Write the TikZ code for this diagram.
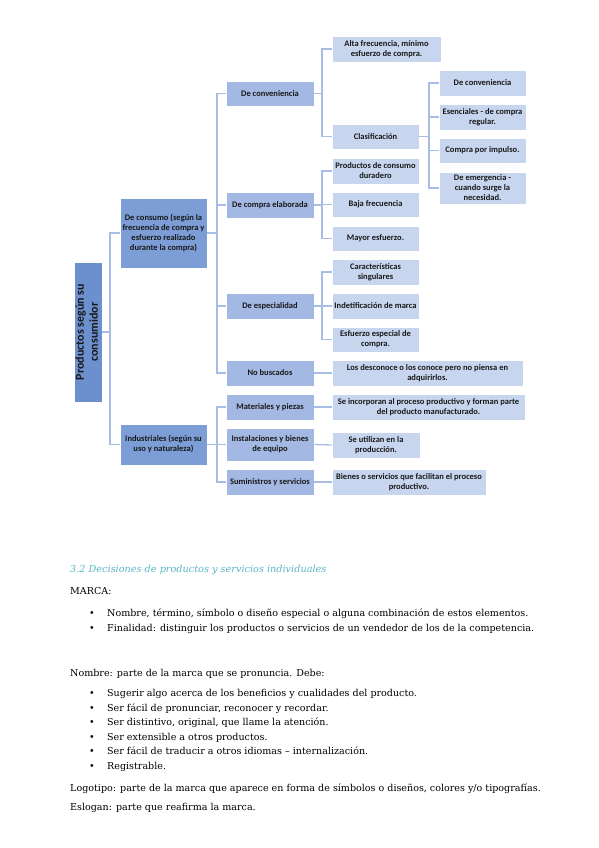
\documentclass[tikz,border=0pt]{standalone}
\usepackage{fontspec}
\usepackage{graphicx}
\newfontfamily\diagfont{Carlito}
\newfontfamily\bodyfont{DejaVu Serif}
\definecolor{rootc}{RGB}{108,143,206}
\definecolor{lonec}{RGB}{124,157,214}
\definecolor{ltwoc}{RGB}{163,184,226}
\definecolor{lthreec}{RGB}{199,213,239}
\definecolor{connc}{RGB}{168,189,230}
\definecolor{headc}{RGB}{91,183,200}
\newcommand\dg{\diagfont\bfseries\fontsize{8.5}{10}\selectfont}
\newcommand\bd{\bodyfont\fontsize{9.55}{11}\selectfont}
\begin{document}
\begin{tikzpicture}[x=1pt,y=-1pt,
  bx/.style={draw=white, line width=0.6pt, inner sep=0pt, align=center, font=\dg, text=black!90},
  rootbox/.style={bx, fill=rootc},
  lone/.style={bx, fill=lonec},
  ltwo/.style={bx, fill=ltwoc, minimum width=88pt},
  lthree/.style={bx, fill=lthreec},
  lfour/.style={bx, fill=lthreec, minimum width=87pt},
  conn/.style={draw=connc, line width=1.3pt},
  bodytext/.style={anchor=base west, inner sep=0pt, font=\bd, text=black},
  bul/.style={anchor=base west, inner sep=0pt, font=\bd, text=black}]
\fill[white] (0,0) rectangle (599,848);
\useasboundingbox (0,0) rectangle (599,848);

% bar positions
\coordinate (xa) at (110,0);
\coordinate (xb) at (217,0);
\coordinate (xc) at (322,0);
\coordinate (xd) at (429,0);

% root
\node[rootbox, minimum width=26pt, minimum height=140pt] (root) at (88,332)
  {\rotatebox{90}{\diagfont\fontsize{12}{14}\selectfont\begin{tabular}{@{}c@{}}Productos según su\\consumidor\end{tabular}}};

% level 1
\node[lone, minimum width=87pt, minimum height=70pt] (c1) at (163.5,233)
  {De consumo (según la\\frecuencia de compra y\\esfuerzo realizado\\durante la compra)};
\node[lone, minimum width=87pt, minimum height=41pt] (c2) at (163.5,444.5)
  {Industriales (según su\\uso y naturaleza)};

% level 2
\node[ltwo, minimum height=25pt] (d1) at (270,93.5) {De conveniencia};
\node[ltwo, minimum height=26pt] (d2) at (270,205) {De compra elaborada};
\node[ltwo, minimum height=26pt] (d3) at (270,306) {De especialidad};
\node[ltwo, minimum height=26pt] (d4) at (270,373) {No buscados};
\node[ltwo, minimum height=26pt] (d5) at (270,407) {Materiales y piezas};
\node[ltwo, minimum height=33pt] (d6) at (270,444.5) {Instalaciones y bienes\\de equipo};
\node[ltwo, minimum height=26pt] (d7) at (270,482) {Suministros y servicios};

% level 3
\node[lthree, minimum width=109pt, minimum height=26pt] (e1) at (386.5,49) {Alta frecuencia, mínimo\\esfuerzo de compra.};
\node[lthree, minimum width=87pt, minimum height=25pt] (e2) at (375.5,136.5) {Clasificación};
\node[lthree, minimum width=87pt, minimum height=26pt] (e3) at (375.5,171) {Productos de consumo\\duradero};
\node[lthree, minimum width=87pt, minimum height=25pt] (e4) at (375.5,204.5) {Baja frecuencia};
\node[lthree, minimum width=87pt, minimum height=25pt] (e5) at (375.5,238.5) {Mayor esfuerzo.};
\node[lthree, minimum width=87pt, minimum height=26pt] (e6) at (375.5,272) {Características\\singulares};
\node[lthree, minimum width=87pt, minimum height=26pt] (e7) at (375.5,306) {Indetificación de marca};
\node[lthree, minimum width=87pt, minimum height=25pt] (e8) at (375.5,339.5) {Esfuerzo especial de\\compra.};
\node[lthree, minimum width=191pt, minimum height=26pt] (e9) at (427.5,373) {Los desconoce o los conoce pero no piensa en\\adquirirlos.};
\node[lthree, minimum width=193pt, minimum height=26pt] (e10) at (428.5,407) {Se incorporan al proceso productivo y forman parte\\del producto manufacturado.};
\node[lthree, minimum width=88pt, minimum height=26pt] (e11) at (376,445) {Se utilizan en la\\producción.};
\node[lthree, minimum width=154pt, minimum height=26pt] (e12) at (409,482) {Bienes o servicios que facilitan el proceso\\productivo.};

% level 4
\node[lfour, minimum height=26pt] (f1) at (482.5,83) {De conveniencia};
\node[lfour, minimum height=26pt] (f2) at (482.5,117) {Esenciales - de compra\\regular.};
\node[lfour, minimum height=25pt] (f3) at (482.5,150.5) {Compra por impulso.};
\node[lfour, minimum height=32pt] (f4) at (482.5,188) {De emergencia -\\cuando surge la\\necesidad.};

% connectors
\foreach \c in {c1,c2} \draw[conn] (root.east) -- (root.east -| xa) |- (\c.west);
\foreach \c in {d1,d2,d3,d4} \draw[conn] (c1.east) -- (c1.east -| xb) |- (\c.west);
\foreach \c in {d5,d6,d7} \draw[conn] (c2.east) -- (c2.east -| xb) |- (\c.west);
\foreach \c in {e1,e2} \draw[conn] (d1.east) -- (d1.east -| xc) |- (\c.west);
\foreach \c in {e3,e4,e5} \draw[conn] (d2.east) -- (d2.east -| xc) |- (\c.west);
\foreach \c in {e6,e7,e8} \draw[conn] (d3.east) -- (d3.east -| xc) |- (\c.west);
\draw[conn] (d4.east) -- (e9.west);
\draw[conn] (d5.east) -- (e10.west);
\draw[conn] (d6.east) -- (e11.west);
\draw[conn] (d7.east) -- (e12.west);
\foreach \c in {f1,f2,f3,f4} \draw[conn] (e2.east) -- (e2.east -| xd) |- (\c.west);

% text below
\node[anchor=base west, inner sep=0pt, font=\bodyfont\itshape\fontsize{9.7}{11}\selectfont, text=headc] (h) at (70,572.5)
  {3.2 Decisiones de productos y servicios individuales};
\node[bodytext] (t1) at (70,594) {MARCA:};
\node[bul] (b1) at (89,616.5) {•};
\node[bodytext] (b1t) at (107,616.5) {Nombre, término, símbolo o diseño especial o alguna combinación de estos elementos.};
\node[bul] (b2) at (89,631.5) {•};
\node[bodytext] (b2t) at (107,631.5) {Finalidad: distinguir los productos o servicios de un vendedor de los de la competencia.};
\node[bodytext] (t2) at (70,676) {Nombre: parte de la marca que se pronuncia. Debe:};
\node[bul] (b3) at (89,696.5) {•};
\node[bodytext] (b3t) at (107,696.5) {Sugerir algo acerca de los beneficios y cualidades del producto.};
\node[bul] (b4) at (89,711) {•};
\node[bodytext] (b4t) at (107,711) {Ser fácil de pronunciar, reconocer y recordar.};
\node[bul] (b5) at (89,725.5) {•};
\node[bodytext] (b5t) at (107,725.5) {Ser distintivo, original, que llame la atención.};
\node[bul] (b6) at (89,740) {•};
\node[bodytext] (b6t) at (107,740) {Ser extensible a otros productos.};
\node[bul] (b7) at (89,754.5) {•};
\node[bodytext] (b7t) at (107,754.5) {Ser fácil de traducir a otros idiomas – internalización.};
\node[bul] (b8) at (89,769) {•};
\node[bodytext] (b8t) at (107,769) {Registrable.};
\node[bodytext] (t3) at (70,791) {Logotipo: parte de la marca que aparece en forma de símbolos o diseños, colores y/o tipografías.};
\node[bodytext] (t4) at (70,810) {Eslogan: parte que reafirma la marca.};
\end{tikzpicture}
\end{document}
